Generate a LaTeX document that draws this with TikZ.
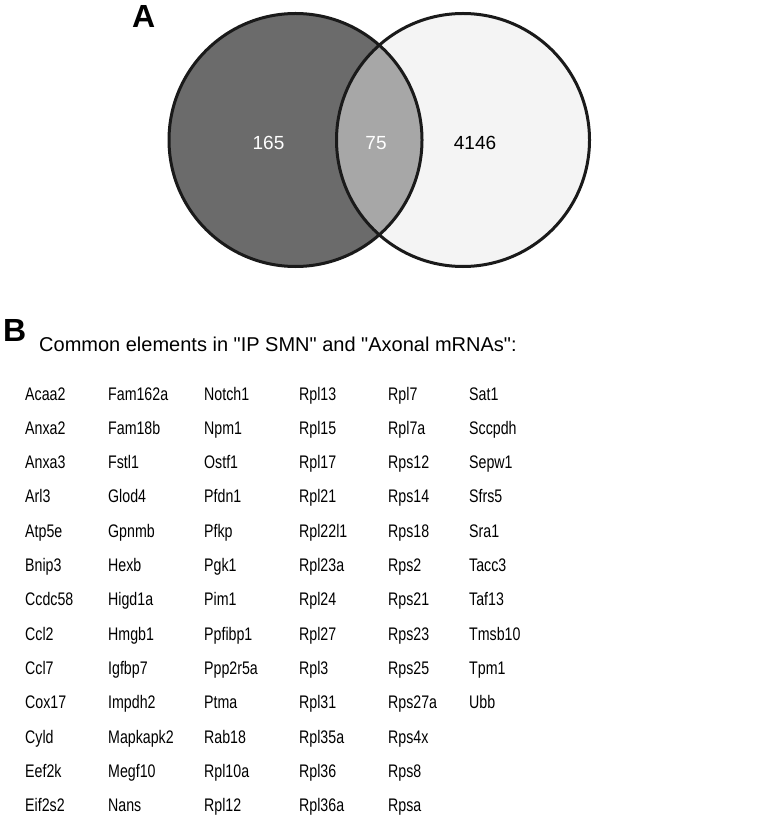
\documentclass[tikz,border=0pt]{standalone}
\usepackage{fontspec}
\setmainfont{Liberation Sans}
\newfontfamily\titlefont{Liberation Sans}
\newfontfamily\genefont{Liberation Sans}[FakeStretch=0.78]
\usetikzlibrary{positioning}
\definecolor{ipfill}{HTML}{6B6B6B}
\definecolor{bothfill}{HTML}{A7A7A7}
\definecolor{axfill}{HTML}{F4F4F4}
\definecolor{ringline}{HTML}{1A1A1A}
\tikzset{
  tag/.style={anchor=base west,inner sep=0pt,font=\fontsize{32}{36}\selectfont\bfseries},
  count/.style={inner sep=0pt,font=\fontsize{19}{22}\selectfont},
  gene/.style={anchor=base west,inner sep=0pt,font=\genefont\fontsize{18.2}{20}\selectfont},
  ring/.style={draw=ringline,line width=3pt},
}

\begin{document}
\begin{tikzpicture}[x=1pt,y=-1pt]
\useasboundingbox (0,0) rectangle (760,818);
% panel A: venn
\coordinate (ipc) at (295.5,140);
\coordinate (axc) at (463,140);
\fill[axfill] (axc) circle[radius=126.5pt];
\fill[ipfill] (ipc) circle[radius=126.5pt];
\begin{scope}
  \clip (ipc) circle[radius=126.5pt];
  \fill[bothfill] (axc) circle[radius=126.5pt];
\end{scope}
\draw[ring] (ipc) circle[radius=126.5pt];
\draw[ring] (axc) circle[radius=126.5pt];
\node[tag] (pa) at (132,28) {A};
\node[count,text=white] (nip)   at (268.5,143) {165};
\node[count,text=white] (nboth) at (376,143)   {75};
\node[count] (nax) at (475,143) {4146};
% panel B: common genes
\node[tag] (pb) at (3,341) {B};
\node[anchor=base west,inner sep=0pt,font=\titlefont\fontsize{20}{24}\selectfont] (title) at (39,351)
  {Common elements in "IP SMN" and "Axonal mRNAs":};
\foreach \x/\genes [count=\c] in {
  25/{Acaa2,Anxa2,Anxa3,Arl3,Atp5e,Bnip3,Ccdc58,Ccl2,Ccl7,Cox17,Cyld,Eef2k,Eif2s2},
  108/{Fam162a,Fam18b,Fstl1,Glod4,Gpnmb,Hexb,Higd1a,Hmgb1,Igfbp7,Impdh2,Mapkapk2,Megf10,Nans},
  204/{Notch1,Npm1,Ostf1,Pfdn1,Pfkp,Pgk1,Pim1,Ppfibp1,Ppp2r5a,Ptma,Rab18,Rpl10a,Rpl12},
  299/{Rpl13,Rpl15,Rpl17,Rpl21,Rpl22l1,Rpl23a,Rpl24,Rpl27,Rpl3,Rpl31,Rpl35a,Rpl36,Rpl36a},
  388/{Rpl7,Rpl7a,Rps12,Rps14,Rps18,Rps2,Rps21,Rps23,Rps25,Rps27a,Rps4x,Rps8,Rpsa},
  469/{Sat1,Sccpdh,Sepw1,Sfrs5,Sra1,Tacc3,Taf13,Tmsb10,Tpm1,Ubb}}
  \foreach \g [count=\r] in \genes
    \node[gene] (g\c-\r) at (\x,{400+(\r-1)*34.33}) {\g};
\end{tikzpicture}
\end{document}
